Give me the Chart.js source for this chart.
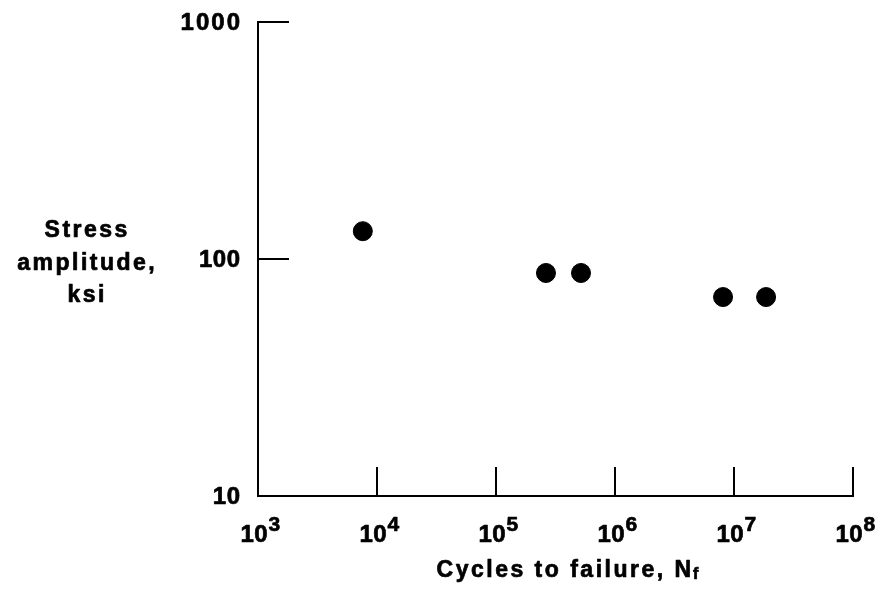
<!DOCTYPE html>
<html>
<head>
<meta charset="utf-8">
<script src="https://cdn.jsdelivr.net/npm/chart.js@4"></script>
<style>
html,body{margin:0;padding:0;background:#fff;}
#wrap{width:882px;height:589px;}
</style>
</head>
<body>
<div id="wrap"><canvas id="c" width="882" height="589"></canvas></div>
<script>
// Data
const cycles = [7600, 263000, 518000, 8090000, 18600000];
const stress = [131, 87.3, 87.3, 69.1, 69.1];

const xTickValues = [1e3, 1e4, 1e5, 1e6, 1e7, 1e8];
const xTickExponents = ['3', '4', '5', '6', '7', '8'];
const yTickValues = [10, 100, 1000];
const yTickLabels = ['10', '100', '1000'];

const xTitle = 'Cycles to failure, N';
const xTitleSub = 'f';
const yTitleLines = ['Stress', 'amplitude,', 'ksi'];

const points = cycles.map((c, i) => ({x: c, y: stress[i]}));

function heavyText(ctx, t, x, y) {
  ctx.fillText(t, x, y);
  ctx.strokeText(t, x, y);
}

function drawSpaced(ctx, text, x, y, spacing, align, measureOnly) {
  const chars = Array.from(text);
  const widths = chars.map(ch => ctx.measureText(ch).width);
  const total = widths.reduce((a, b) => a + b, 0) + spacing * (chars.length - 1);
  if (measureOnly) return total;
  let sx = x;
  if (align === 'center') sx = x - total / 2;
  else if (align === 'right') sx = x - total;
  ctx.textAlign = 'left';
  chars.forEach((ch, i) => {
    heavyText(ctx, ch, sx, y);
    sx += widths[i] + spacing;
  });
  return total;
}

const FONT = '"Liberation Sans", Arial, sans-serif';

const axesPlugin = {
  id: 'customAxes',
  afterDraw(chart) {
    const ctx = chart.ctx;
    const xs = chart.scales.x, ys = chart.scales.y;
    const left = xs.getPixelForValue(1e3);
    const right = xs.getPixelForValue(1e8);
    const bottom = ys.getPixelForValue(10);
    const top = ys.getPixelForValue(1000);
    ctx.save();
    ctx.strokeStyle = '#000';
    ctx.fillStyle = '#000';
    ctx.lineWidth = 2;
    ctx.lineCap = 'square';
    // axes lines
    ctx.beginPath();
    ctx.moveTo(left, top);
    ctx.lineTo(left, bottom);
    ctx.lineTo(right, bottom);
    ctx.stroke();
    // y ticks (inward)
    yTickValues.forEach(v => {
      if (v === 10) return;
      const py = ys.getPixelForValue(v);
      ctx.beginPath();
      ctx.moveTo(left, py);
      ctx.lineTo(left + 30, py);
      ctx.stroke();
    });
    // x ticks (inward)
    xTickValues.forEach(v => {
      if (v === 1e3) return;
      const px = xs.getPixelForValue(v);
      ctx.beginPath();
      ctx.moveTo(px, bottom);
      ctx.lineTo(px, bottom - 28);
      ctx.stroke();
    });
    ctx.lineWidth = 0.7;
    ctx.lineJoin = 'round';
    // y tick labels
    ctx.font = 'bold 24px ' + FONT;
    ctx.textBaseline = 'middle';
    yTickValues.forEach((v, i) => {
      const py = ys.getPixelForValue(v);
      drawSpaced(ctx, yTickLabels[i], left - 18, py + 1, i === 2 ? 2 : 0.5, 'right');
    });
    // x tick labels with superscripts
    ctx.textBaseline = 'alphabetic';
    xTickValues.forEach((v, i) => {
      const px = xs.getPixelForValue(v);
      ctx.font = 'bold 24px ' + FONT;
      const w = drawSpaced(ctx, '10', px - 4, bottom + 46, 0.5, 'center');
      ctx.font = 'bold 21px ' + FONT;
      ctx.textAlign = 'left';
      heavyText(ctx, xTickExponents[i], px - 4 + w / 2 + 1, bottom + 35);
    });
    // x title
    ctx.font = 'bold 23px ' + FONT;
    const tw = drawSpaced(ctx, xTitle, 0, 0, 2.5, 'left', true);
    ctx.font = 'bold 16px ' + FONT;
    const sw = ctx.measureText(xTitleSub).width;
    const totalW = tw + 2 + sw;
    const tx = (left + right) / 2 + 12 - totalW / 2;
    ctx.font = 'bold 23px ' + FONT;
    drawSpaced(ctx, xTitle, tx, bottom + 81, 2.5, 'left');
    ctx.font = 'bold 16px ' + FONT;
    heavyText(ctx, xTitleSub, tx + tw + 2, bottom + 83);
    // y title
    ctx.font = 'bold 23px ' + FONT;
    const ybase = [238, 271, 303];
    const midY = ys.getPixelForValue(100);
    yTitleLines.forEach((line, i) => {
      drawSpaced(ctx, line, 86, midY + (ybase[i] - 260), 2.5, 'center');
    });
    ctx.restore();
  }
};

new Chart(document.getElementById('c'), {
  type: 'scatter',
  data: {
    datasets: [{
      data: points,
      backgroundColor: '#000',
      borderColor: '#000',
      pointRadius: 9.5,
      pointHoverRadius: 9.5,
      clip: false
    }]
  },
  options: {
    responsive: false,
    animation: false,
    devicePixelRatio: 1,
    layout: {padding: {left: 258, right: 29, top: 22, bottom: 93}},
    plugins: {legend: {display: false}, tooltip: {enabled: false}},
    scales: {
      x: {type: 'logarithmic', min: 1e3, max: 1e8, display: false},
      y: {type: 'logarithmic', min: 10, max: 1000, display: false}
    }
  },
  plugins: [axesPlugin]
});
</script>
</body>
</html>
